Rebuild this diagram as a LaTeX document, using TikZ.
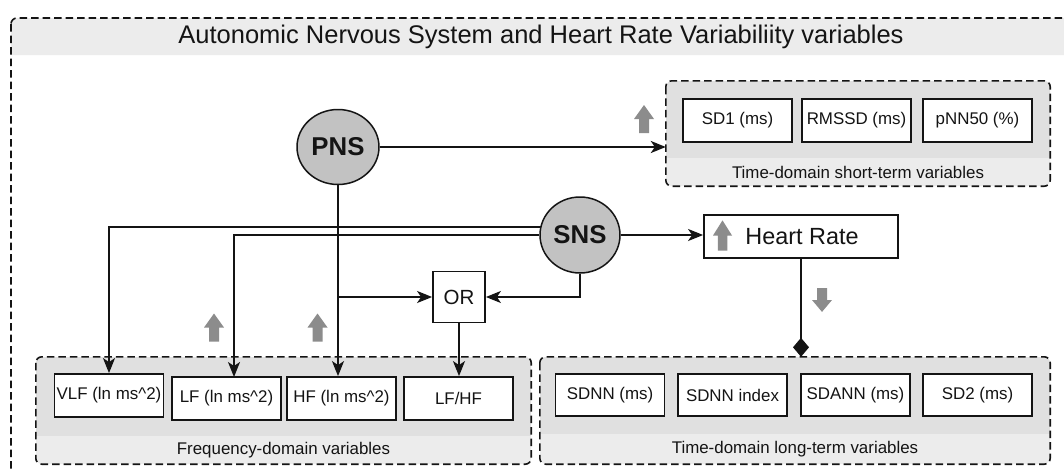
\documentclass[tikz,border=0pt]{standalone}
\usepackage{fontspec}
\setmainfont{Liberation Sans}
\usetikzlibrary{arrows.meta,shapes.geometric,calc}
\definecolor{grpdark}{HTML}{E0E0E0}
\definecolor{grplight}{HTML}{ECECEC}
\definecolor{circfill}{HTML}{C2C2C2}
\definecolor{garr}{HTML}{8C8C8C}
\definecolor{ink}{HTML}{141414}
\begin{document}
\begin{tikzpicture}[x=1pt,y=-1pt,
  vbox/.style={draw=ink, line width=1.8pt, fill=white, minimum width=109pt, minimum height=43pt, inner sep=0pt, font=\fontsize{16.9}{19}\selectfont, text=ink},
  circ/.style={ellipse, draw=ink, line width=1.5pt, fill=circfill, inner sep=0pt, font=\fontsize{25.8}{28}\selectfont\bfseries, text=ink},
  grpline/.style={draw=ink, line width=1.6pt, dash pattern=on 7.5pt off 4pt, rounded corners=6pt},
  grplabel/.style={font=\fontsize{16.9}{19}\selectfont, text=ink, inner sep=0pt},
  conn/.style={draw=ink, line width=1.8pt, -{Stealth[length=15pt,width=12pt,inset=4pt]}},
  dconn/.style={draw=ink, line width=1.8pt, -{Diamond[length=19pt,width=16pt]}},
  garrow/.pic={\fill[garr] (-5,14) -- (-5,0) -- (-10,0) -- (0,-14) -- (10,0) -- (5,0) -- (5,14) -- cycle;}
]
\useasboundingbox (0,0) rectangle (1064,471);
\fill[white] (0,0) rectangle (1064,471);
% outer frame
\begin{scope}
\clip (0,0) rectangle (1064,471);
\fill[grplight] (11,55) [rounded corners=6pt] -- (11,18) -- (1090,18) [sharp corners] -- (1090,55) -- cycle;
\draw[grpline] (11,18) rectangle (1090,495);
\end{scope}
\node[font=\fontsize{25.5}{28}\selectfont, text=ink, inner sep=0pt] (title) at (541,37) {Autonomic Nervous System and Heart Rate Variabiliity variables};

% group: short-term
\node[fill=grplight, rounded corners=6pt, minimum width=384pt, minimum height=105pt, inner sep=0pt] (ST) at (858,133.5) {};
\begin{scope}
\clip[rounded corners=6pt] (666,81) rectangle (1050,186);
\fill[grpdark] (666,81) rectangle (1050,158);
\end{scope}
\draw[grpline] (ST.north west) rectangle (ST.south east);
\node[grplabel] (STl) at (858,172) {Time-domain short-term variables};

% group: frequency
\node[fill=grplight, rounded corners=6pt, minimum width=495pt, minimum height=107pt, inner sep=0pt] (FD) at (283.5,410.5) {};
\begin{scope}
\clip[rounded corners=6pt] (36,357) rectangle (531,464);
\fill[grpdark] (36,357) rectangle (531,436);
\end{scope}
\draw[grpline] (FD.north west) rectangle (FD.south east);
\node[grplabel] (FDl) at (283.5,450) {Frequency-domain variables};

% group: long-term
\node[fill=grplight, rounded corners=6pt, minimum width=510pt, minimum height=107pt, inner sep=0pt] (LT) at (795,410.5) {};
\begin{scope}
\clip[rounded corners=6pt] (540,357) rectangle (1050,464);
\fill[grpdark] (540,357) rectangle (1050,434);
\end{scope}
\draw[grpline] (LT.north west) rectangle (LT.south east);
\node[grplabel] (LTl) at (795,449) {Time-domain long-term variables};

% boxes
\node[vbox] (SD1) at (737.5,120.5) {SD1 (ms)};
\node[vbox] (RMSSD) at (856.5,120.5) {RMSSD (ms)};
\node[vbox] (PNN) at (977.5,120.5) {pNN50 (\%)};

\node[vbox] (VLF) at (109,395.5) {VLF (ln ms\textasciicircum 2)};
\node[vbox] (LF) at (226.5,398.5) {LF (ln ms\textasciicircum 2)};
\node[vbox] (HF) at (341.5,398.5) {HF (ln ms\textasciicircum 2)};
\node[vbox] (LFHF) at (458.5,398.5) {LF/HF};

\node[vbox, minimum height=42pt] (SDNN) at (610,395) {SDNN (ms)};
\node[vbox, minimum height=42pt] (SDNNI) at (732.5,395) {SDNN index};
\node[vbox, minimum height=42pt] (SDANN) at (855.5,395) {SDANN (ms)};
\node[vbox, minimum height=42pt] (SD2) at (977.5,395) {SD2 (ms)};

% main nodes
\node[circ, minimum width=82pt, minimum height=75pt] (PNS) at (338,147) {PNS};
\node[circ, minimum width=80pt, minimum height=76pt] (SNS) at (580,235) {SNS};
\node[vbox, minimum width=194pt, minimum height=43pt, font=\fontsize{23.4}{26}\selectfont] (HR) at (801,236.5) {\hspace*{2pt}Heart Rate};
\node[vbox, minimum width=52pt, minimum height=51pt, font=\fontsize{20.5}{22}\selectfont] (OR) at (459,297) {OR};

% grey arrows
\pic at (644,119) {garrow};
\pic at (214,327.5) {garrow};
\pic at (317.5,327.5) {garrow};
\pic[xscale=0.95, yscale=1.08] at (722.5,235.5) {garrow};
\pic[rotate=180, yscale=0.85] at (822,300) {garrow};

% connectors
\coordinate (lfx) at (234,377);
\coordinate (vlfs) at ($(SNS.center)+(-39.1,-8)$);
\draw[conn] (PNS.east) -- (PNS.east -| ST.west);
\draw[conn] (PNS.south) -- (PNS.south |- HF.north);
\draw[conn] (PNS.south |- OR.west) -- (OR.west);
\draw[conn] (SNS.south) |- (OR.east);
\draw[conn] (OR.south) -- (OR.south |- LFHF.north);
\draw[conn] (SNS.east) -- (SNS.east -| HR.west);
\draw[conn] (vlfs) -| (VLF.north);
\draw[conn] (SNS.west) -| (lfx);
\draw[dconn] (HR.south) -- (HR.south |- LT.north);
\end{tikzpicture}
\end{document}
